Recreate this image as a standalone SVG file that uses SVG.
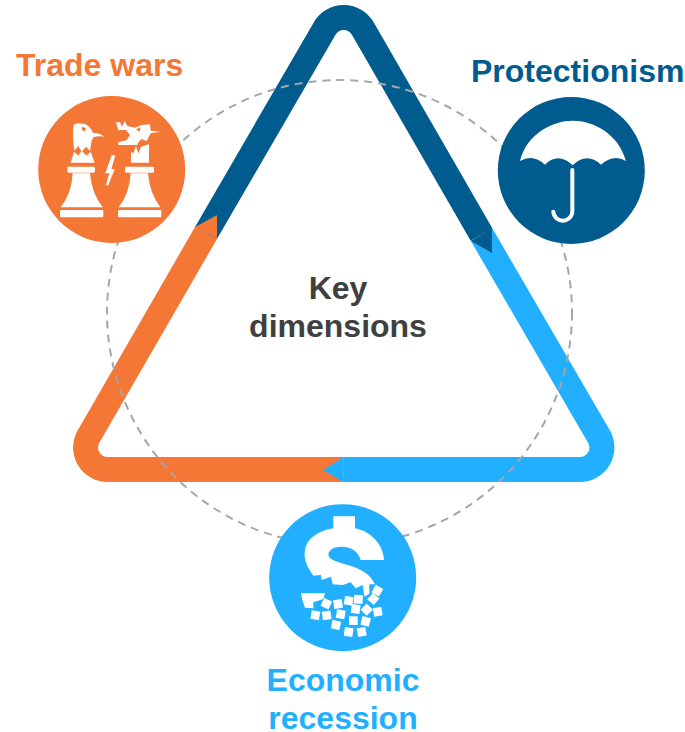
<svg xmlns="http://www.w3.org/2000/svg" width="685" height="732" viewBox="0 0 685 732">
<style>
text{font-family:"Liberation Sans",Arial,sans-serif;font-weight:700;font-size:32px}
.band{fill:none;stroke-width:25;stroke-linejoin:round}
.w{fill:#fff}
</style>
<rect width="685" height="732" fill="#fff"/>
<g id="connectors">
<path class="band" stroke="#f47735" d="M343.3,469.5H107.5A22,22 0 0 1 88.5,436.6L206,233"/>
<path class="band" stroke="#22afff" d="M481.5,234.5L599,436.6A22,22 0 0 1 580,469.5H343.3"/>
<path class="band" stroke="#005b8f" d="M206,233L324.7,28.4A22,22 0 0 1 362.7,28.4L481.5,234.5"/>
<polygon fill="#f47735" points="195,227 217,239 217,215"/>
<polygon fill="#005b8f" points="471,241 492,228 492,253"/>
<polygon fill="#22afff" points="343.5,457 343.5,482 323,470"/>
<circle id="ring" cx="339.5" cy="312.5" r="232.5" fill="none" stroke="#a6a6a6" stroke-width="2" stroke-dasharray="8 6"/>
</g>
<g id="center-label" fill="#404040">
<text x="338" y="299" text-anchor="middle">Key</text>
<text x="338" y="337" text-anchor="middle">dimensions</text>
</g>
<g id="trade-wars">
<circle cx="111.7" cy="169.5" r="73.5" fill="#f47735"/>
<g class="w" transform="translate(30 90) scale(.33333)">
<path fill-rule="evenodd" d="M130,112Q130,100 145,100L165,102Q180,108 190,130Q205,125 222,140Q205,137 190,142L185,152L180,182L168,170L155,185L145,168L133,182Q127,140 130,112ZM155,110L168,114L164,124L156,120Z"/>
<path d="M122,218L132,185L145,197L155,182L170,197L182,185L194,218Z"/>
<rect x="112" y="230" width="83" height="18" rx="4"/>
<path d="M128,250H180Q185,310 218,352H92Q125,310 128,250Z"/>
<rect x="90" y="360" width="130" height="22" rx="4"/>
<polygon points="245,196 256,196 244,238 254,238 234,287 228,284 238,250 226,250"/>
<path fill-rule="evenodd" d="M258,97L270,97L276,110L284,93L292,108L315,113L335,105L360,103L362,122L392,125L362,130L350,153L335,147L326,155L322,165H265V157L290,150L300,135L288,120H265ZM318,118L332,112L328,126Z"/>
<path d="M303,218V185L310,190L318,168L325,190L333,170L357,163V218Z"/>
<rect x="285" y="230" width="87" height="18" rx="4"/>
<path d="M302,250H354Q359,310 391,352H266Q299,310 302,250Z"/>
<rect x="264" y="360" width="130" height="22" rx="4"/>
</g>
<text x="16" y="76" fill="#f47735">Trade wars</text>
</g>
<g id="protectionism">
<circle cx="571.3" cy="170.5" r="73.5" fill="#005b8f"/>
<g transform="translate(490 90) scale(.33333)">
<path class="w" d="M90,213C110,130 190,92 248,92C310,92 385,130 408,213Q370,190 333,224Q290,185 248,226Q205,185 165,224Q130,190 90,213Z"/>
<path d="M247,240V362A28,28 0 0 1 190,365" fill="none" stroke="#fff" stroke-width="12" stroke-linecap="round"/>
</g>
<text x="471" y="82" fill="#005b8f">Protectionism</text>
</g>
<g id="economic-recession">
<circle cx="342.7" cy="577.7" r="73.5" fill="#22afff"/>
<g class="w" transform="translate(260 495) scale(.33333)">
<path d="M220,64H285V100C335,110 370,150 372,195H302C295,170 275,155 245,155C215,155 200,170 207,185C215,198 250,205 280,215C315,228 335,245 345,268H328V296L313,305L308,270L287,280L272,262L248,270L218,268L213,245L185,255L183,240L160,242C140,215 130,190 135,165C140,130 180,105 220,100Z"/>
<path d="M123,295H195L190,312L160,322V340L135,338Q125,315 123,295Z"/>
<g id="shards">
<rect x="-13" y="-13" width="26" height="26" transform="translate(352 287) rotate(30)"/>
<rect x="-13" y="-13" width="26" height="26" transform="translate(340 312) rotate(40)"/>
<rect x="-13" y="-13" width="26" height="26" transform="translate(353 350) rotate(-10)"/>
<rect x="-13" y="-13" width="26" height="26" transform="translate(320 344) rotate(45)"/>
<rect x="-13" y="-13" width="26" height="26" transform="translate(295 313) rotate(3)"/>
<rect x="-13" y="-13" width="26" height="26" transform="translate(266 317) rotate(10)"/>
<rect x="-13" y="-13" width="26" height="26" transform="translate(287 342) rotate(8)"/>
<rect x="-13" y="-13" width="26" height="26" transform="translate(234 327) rotate(-8)"/>
<rect x="-13" y="-13" width="26" height="26" transform="translate(199 326) rotate(25)"/>
<rect x="-13" y="-13" width="26" height="26" transform="translate(166 361) rotate(10)"/>
<rect x="-13" y="-13" width="26" height="26" transform="translate(200 361) rotate(-8)"/>
<rect x="-13" y="-13" width="26" height="26" transform="translate(242 358) rotate(10)"/>
<rect x="-13" y="-13" width="26" height="26" transform="translate(228 390) rotate(12)"/>
<rect x="-13" y="-13" width="26" height="26" transform="translate(280 377)"/>
<rect x="-13" y="-13" width="26" height="26" transform="translate(317 379) rotate(15)"/>
<rect x="-13" y="-13" width="26" height="26" transform="translate(266 411) rotate(8)"/>
<rect x="-13" y="-13" width="26" height="26" transform="translate(305 411) rotate(-10)"/>
</g>
</g>
<text x="343" y="691" text-anchor="middle" fill="#22afff">Economic</text>
<text x="343" y="729" text-anchor="middle" fill="#22afff">recession</text>
</g>
</svg>
